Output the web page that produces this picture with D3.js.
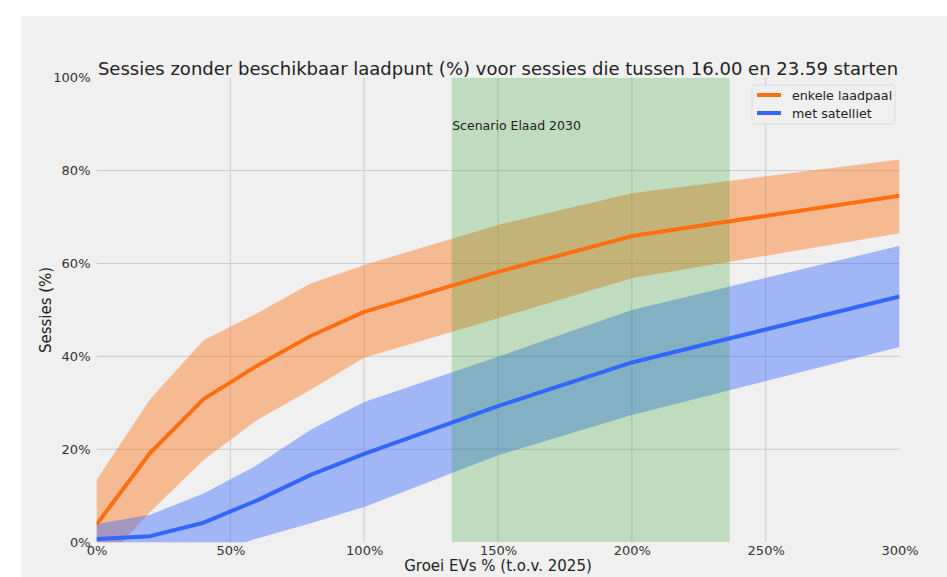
<!DOCTYPE html>
<html>
<head>
<meta charset="utf-8">
<script src="https://cdn.jsdelivr.net/npm/d3@7/dist/d3.min.js"></script>
<style>
  html, body { margin: 0; padding: 0; background: #ffffff; }
  svg { display: block; }
  text { font-family: "DejaVu Sans", sans-serif; }
</style>
</head>
<body>
<svg id="chart" width="947" height="577"></svg>
<script>
// ---- data ----
const growth = [0, 20, 40, 60, 80, 100, 150, 200, 300];               // Groei EVs % (t.o.v. 2025)
const enkeleMean  = [3.8, 19.2, 30.8, 38.0, 44.4, 49.6, 58.2, 65.9, 74.6];
const enkeleUpper = [13.4, 30.8, 43.5, 49.3, 55.7, 59.7, 68.3, 75.1, 82.4];
const enkeleLower = [-6.0, 6.5, 17.7, 26.3, 32.8, 39.7, 48.2, 56.8, 66.5];
const satMean  = [0.7, 1.3, 4.2, 9.0, 14.5, 19.0, 29.3, 38.7, 52.9];
const satUpper = [3.9, 5.9, 10.5, 16.6, 24.2, 30.2, 39.9, 50.0, 63.8];
const satLower = [-2.5, -4.0, -3.0, 0.8, 4.1, 7.6, 18.7, 27.4, 42.0];
const scenarioRange = [132.7, 236.5];
const scenarioLabel = "Scenario Elaad 2030";
const xTicks = [0, 50, 100, 150, 200, 250, 300];
const yTicks = [0, 20, 40, 60, 80, 100];
const seriesNames = ["enkele laadpaal", "met satelliet"];
const titleText = "Sessies zonder beschikbaar laadpunt (%) voor sessies die tussen 16.00 en 23.59 starten";
const xLabel = "Groei EVs % (t.o.v. 2025)";
const yLabel = "Sessies (%)";

// ---- layout ----
const svg = d3.select("#chart");
const W = 947, H = 577;
const plot = { left: 96.5, right: 899.5, top: 77.7, bottom: 542.2 };
const colOrange = "#ff6f12", colBlue = "#3366ff", colGreen = "#2ca02c";

svg.append("rect").attr("x", 21).attr("y", 16).attr("width", W - 21).attr("height", H - 16).attr("fill", "#f0f0f0");

const x = d3.scaleLinear().domain([0, 300]).range([plot.left, plot.right]);
const y = d3.scaleLinear().domain([0, 100]).range([plot.bottom, plot.top]);

svg.append("defs").append("clipPath").attr("id", "clip")
  .append("rect").attr("x", plot.left).attr("y", plot.top)
  .attr("width", plot.right - plot.left).attr("height", plot.bottom - plot.top);

// gridlines
const grid = svg.append("g");
grid.selectAll("line.h").data(yTicks.filter(t => t > 0 && t < 100)).join("line")
  .attr("x1", plot.left).attr("x2", plot.right)
  .attr("y1", d => y(d)).attr("y2", d => y(d))
  .attr("stroke", "#cbcbcb").attr("stroke-width", 1);
grid.selectAll("line.v").data(xTicks.filter(t => t > 0 && t < 300)).join("line")
  .attr("y1", plot.top).attr("y2", plot.bottom)
  .attr("x1", d => x(d)).attr("x2", d => x(d))
  .attr("stroke", "#cbcbcb").attr("stroke-width", 1);

const g = svg.append("g").attr("clip-path", "url(#clip)");

const area = (lo, hi) => d3.area()
  .x((d, i) => x(growth[i]))
  .y0((d, i) => y(lo[i]))
  .y1((d, i) => y(hi[i]))(growth);
const line = vals => d3.line().x((d, i) => x(growth[i])).y((d, i) => y(vals[i]))(growth);

g.append("path").attr("d", area(enkeleLower, enkeleUpper)).attr("fill", colOrange).attr("fill-opacity", 0.42);
g.append("path").attr("d", area(satLower, satUpper)).attr("fill", colBlue).attr("fill-opacity", 0.42);

// scenario span
g.append("rect")
  .attr("x", x(scenarioRange[0])).attr("width", x(scenarioRange[1]) - x(scenarioRange[0]))
  .attr("y", plot.top).attr("height", plot.bottom - plot.top)
  .attr("fill", colGreen).attr("fill-opacity", 0.25);

g.append("path").attr("d", line(enkeleMean)).attr("fill", "none").attr("stroke", colOrange)
  .attr("stroke-width", 4).attr("stroke-linejoin", "round");
g.append("path").attr("d", line(satMean)).attr("fill", "none").attr("stroke", colBlue)
  .attr("stroke-width", 4).attr("stroke-linejoin", "round");

svg.append("text").attr("x", x(scenarioRange[0]) + 0.5).attr("y", 130)
  .attr("font-size", 12.5).attr("fill", "#222").text(scenarioLabel);

// axes
const xAxis = d3.axisBottom(x).tickValues(xTicks).tickFormat(d => d + "%").tickSize(0).tickPadding(3.5);
const yAxis = d3.axisLeft(y).tickValues(yTicks).tickFormat(d => d + "%").tickSize(0).tickPadding(6);
const gx = svg.append("g").attr("transform", `translate(0,${plot.bottom})`).call(xAxis);
const gy = svg.append("g").attr("transform", `translate(${plot.left},0)`).call(yAxis);
[gx, gy].forEach(a => {
  a.select(".domain").remove();
  a.selectAll("text").attr("font-size", 13).attr("fill", "#333").attr("font-family", "DejaVu Sans, sans-serif");
});

// title
const title = svg.append("text").attr("x", (plot.left + plot.right) / 2).attr("y", 75)
  .attr("text-anchor", "middle").attr("font-size", 19).attr("fill", "#222").text(titleText);
const tl = title.node().getComputedTextLength();
title.attr("font-size", 19 * 801 / tl);

svg.append("text").attr("x", (plot.left + plot.right) / 2).attr("y", 570.5)
  .attr("text-anchor", "middle").attr("font-size", 15).attr("fill", "#222").text(xLabel);
svg.append("text").attr("transform", `translate(50.5,${(plot.top + plot.bottom) / 2}) rotate(-90)`)
  .attr("text-anchor", "middle").attr("font-size", 15).attr("fill", "#222").text(yLabel);

// legend
const lg = svg.append("g").attr("transform", "translate(752,85)");
lg.append("rect").attr("width", 143).attr("height", 39).attr("rx", 2)
  .attr("fill", "#f0f0f0").attr("stroke", "#dcdcdc");
[colOrange, colBlue].forEach((c, i) => {
  lg.append("line").attr("x1", 5).attr("x2", 29).attr("y1", 10 + i * 18).attr("y2", 10 + i * 18)
    .attr("stroke", c).attr("stroke-width", 4);
  lg.append("text").attr("x", 40).attr("y", 14.5 + i * 18).attr("font-size", 12.7).attr("fill", "#222")
    .text(seriesNames[i]);
});
</script>
</body>
</html>
